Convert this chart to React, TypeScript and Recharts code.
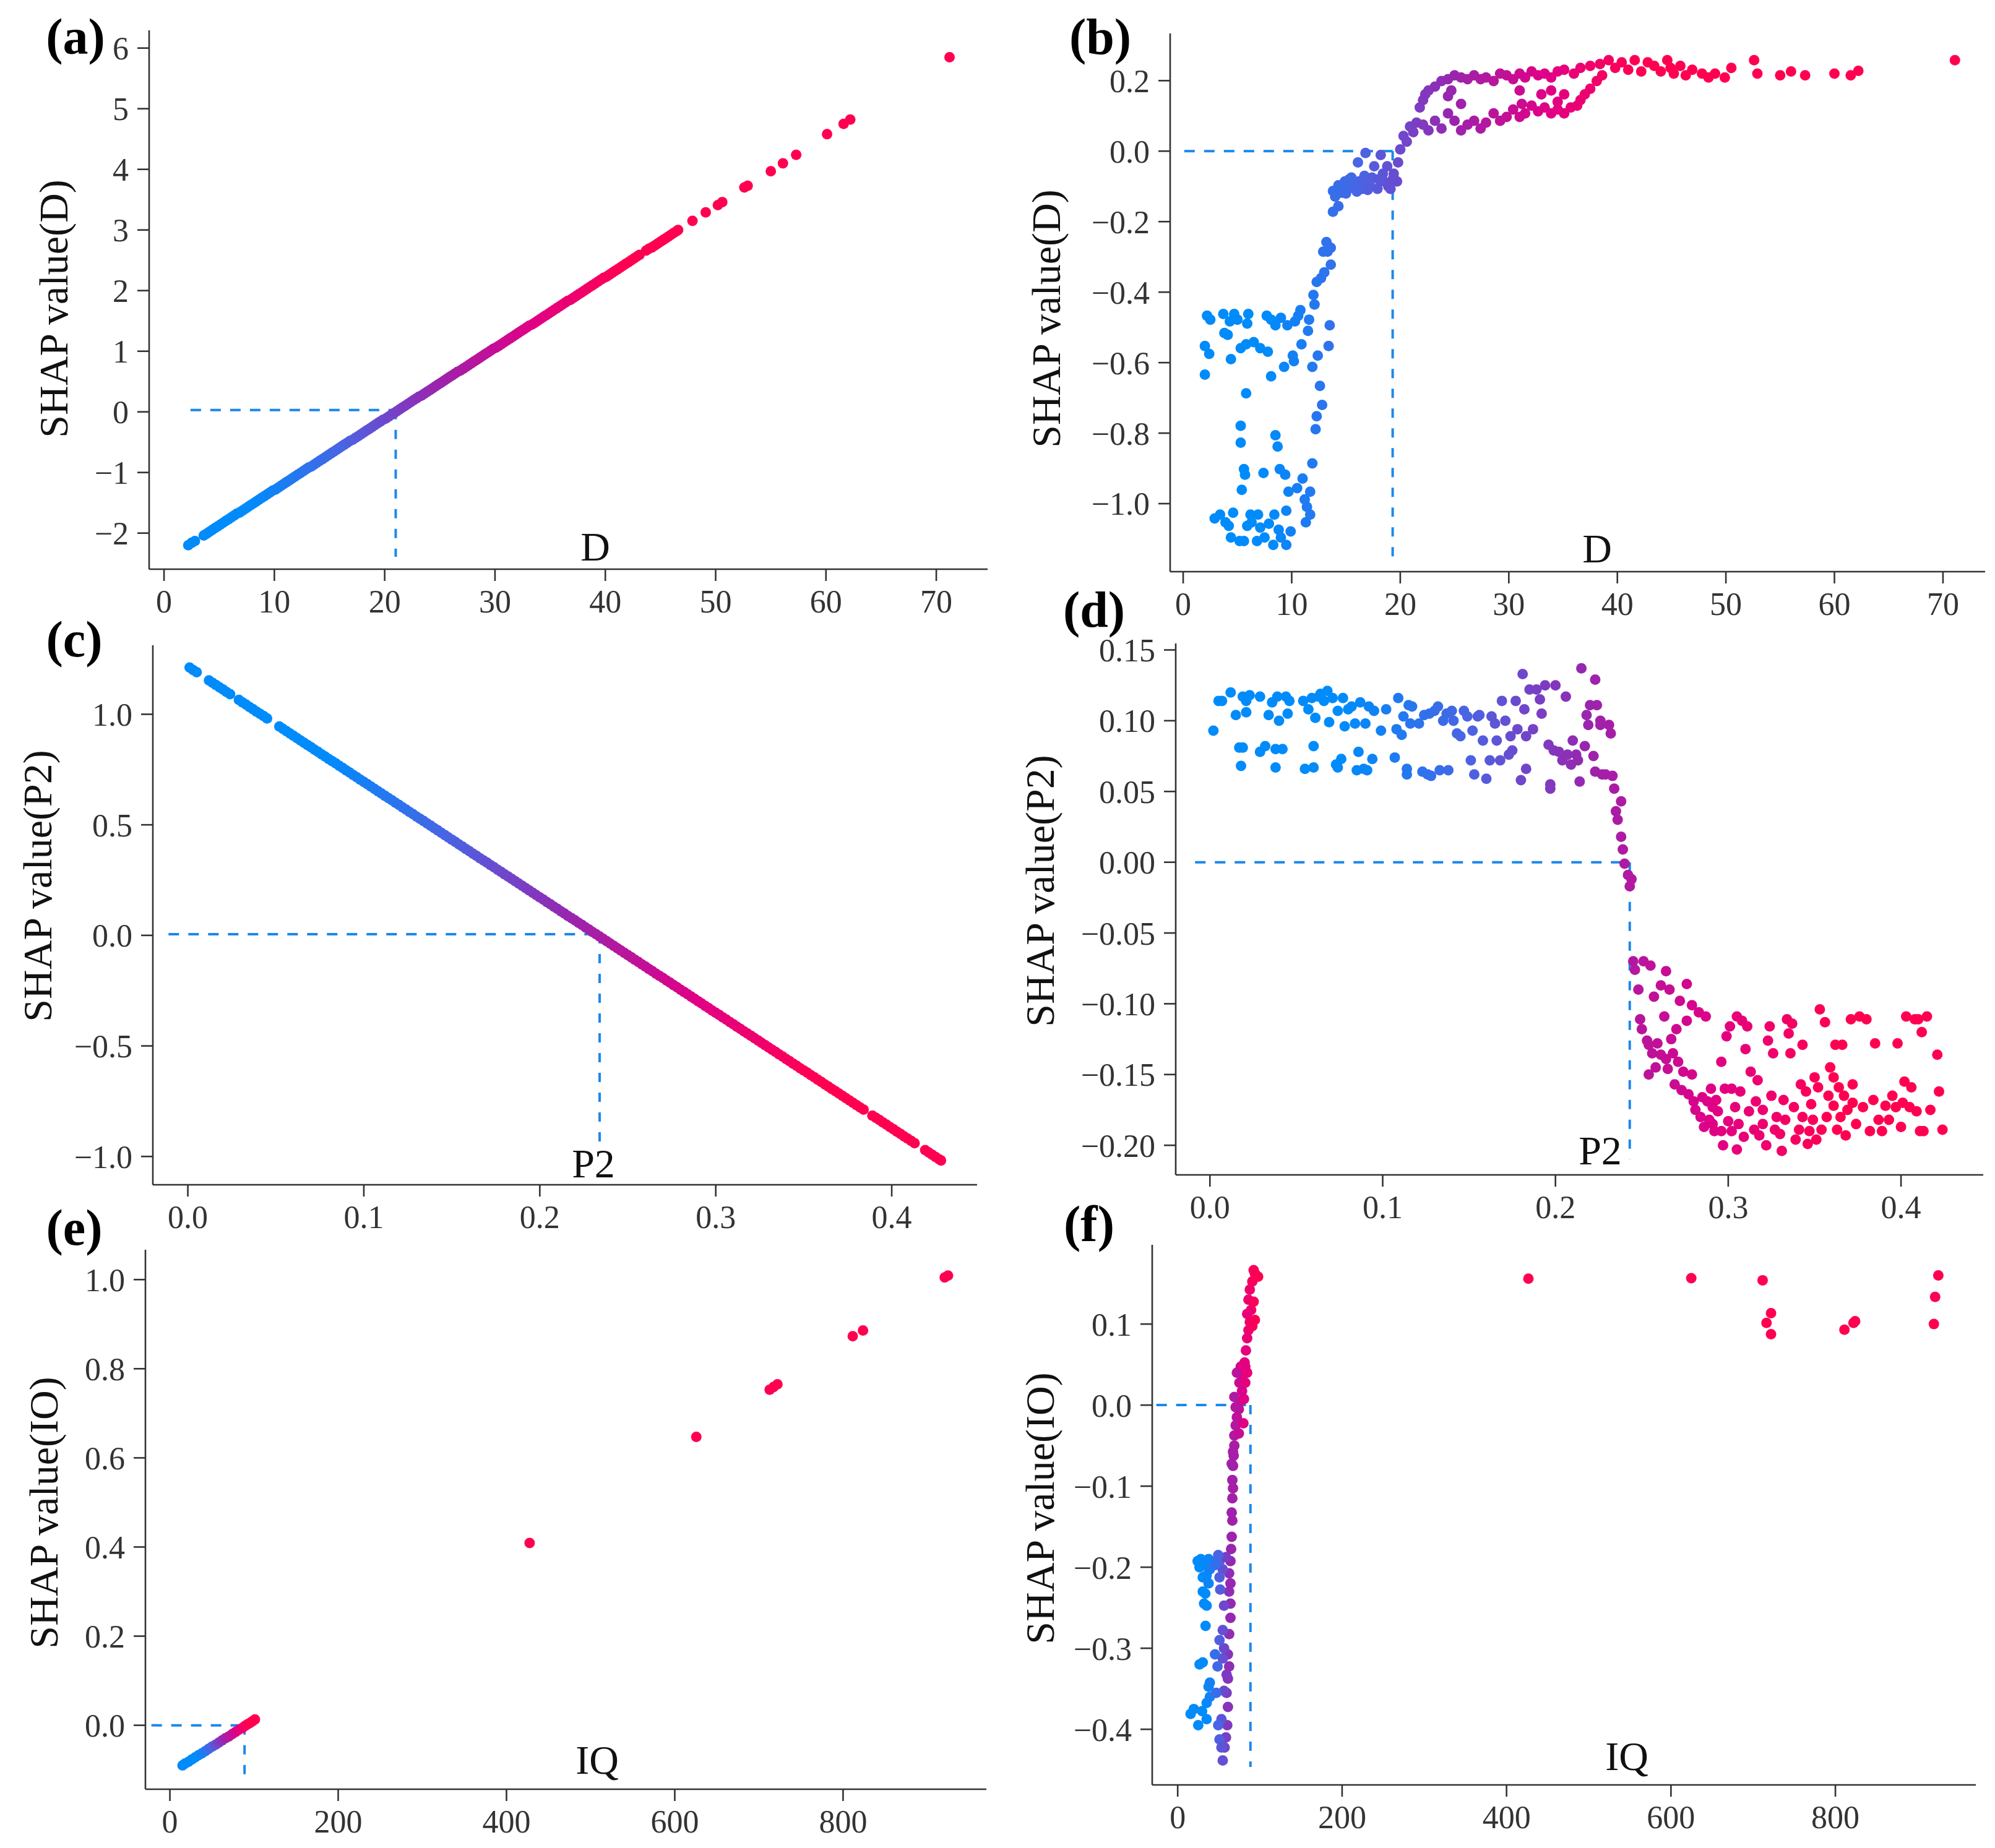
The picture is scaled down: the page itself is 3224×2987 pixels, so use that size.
import React from 'react';
import { ScatterChart, Scatter, XAxis, YAxis, ReferenceLine } from 'recharts';

type Pt = [number, number];

// (a) SHAP value(D) against D
const dLinearPoints: Pt[] = [
  [2.2, -2.2], [2.5, -2.16], [2.8, -2.13],
  [3.6, -2.04], [3.85, -2.01], [4.1, -1.98], [4.35, -1.95], [4.6, -1.92], [4.85, -1.89], [5.1, -1.86],
  [5.35, -1.83], [5.6, -1.8], [5.85, -1.77], [6.1, -1.74], [6.35, -1.71], [6.6, -1.68], [6.85, -1.66],
  [7.1, -1.63], [7.35, -1.6], [7.6, -1.57], [7.85, -1.54], [8.1, -1.51], [8.35, -1.48], [8.6, -1.45],
  [8.85, -1.42], [9.1, -1.39], [9.35, -1.36], [9.6, -1.33], [9.85, -1.3], [10.1, -1.28], [10.35, -1.25],
  [10.6, -1.22], [10.85, -1.19], [11.1, -1.16], [11.35, -1.13], [11.6, -1.1], [11.85, -1.07], [12.1, -1.04],
  [12.35, -1.01], [12.6, -0.98], [12.85, -0.95], [13.1, -0.92], [13.35, -0.9], [13.6, -0.87], [13.85, -0.84],
  [14.1, -0.81], [14.35, -0.78], [14.6, -0.75], [14.85, -0.72], [15.1, -0.69], [15.35, -0.66], [15.6, -0.63],
  [15.85, -0.6], [16.1, -0.57], [16.35, -0.54], [16.6, -0.51], [16.85, -0.48], [17.1, -0.46], [17.35, -0.43],
  [17.6, -0.4], [17.85, -0.37], [18.1, -0.34], [18.35, -0.31], [18.6, -0.28], [18.85, -0.25], [19.1, -0.22],
  [19.35, -0.19], [19.6, -0.16], [19.85, -0.13], [20.1, -0.11], [20.35, -0.08], [20.6, -0.05], [20.85, -0.02],
  [21.1, 0.01], [21.35, 0.04], [21.6, 0.07], [21.85, 0.1], [22.1, 0.13], [22.35, 0.16], [22.6, 0.19],
  [22.85, 0.22], [23.1, 0.25], [23.35, 0.27], [23.6, 0.3], [23.85, 0.33], [24.1, 0.36], [24.35, 0.39],
  [24.6, 0.42], [24.85, 0.45], [25.1, 0.48], [25.35, 0.51], [25.6, 0.54], [25.85, 0.57], [26.1, 0.6],
  [26.35, 0.63], [26.6, 0.66], [26.85, 0.68], [27.1, 0.71], [27.35, 0.74], [27.6, 0.77], [27.85, 0.8],
  [28.1, 0.83], [28.35, 0.86], [28.6, 0.89], [28.85, 0.92], [29.1, 0.95], [29.35, 0.98], [29.6, 1.01],
  [29.85, 1.04], [30.1, 1.06], [30.35, 1.09], [30.6, 1.12], [30.85, 1.15], [31.1, 1.18], [31.35, 1.21],
  [31.6, 1.24], [31.85, 1.27], [32.1, 1.3], [32.35, 1.33], [32.6, 1.36], [32.85, 1.39], [33.1, 1.42],
  [33.35, 1.44], [33.6, 1.47], [33.85, 1.5], [34.1, 1.53], [34.35, 1.56], [34.6, 1.59], [34.85, 1.62],
  [35.1, 1.65], [35.35, 1.68], [35.6, 1.71], [35.85, 1.74], [36.1, 1.77], [36.35, 1.8], [36.6, 1.83],
  [36.85, 1.85], [37.1, 1.88], [37.35, 1.91], [37.6, 1.94], [37.85, 1.97], [38.1, 2.0], [38.35, 2.03],
  [38.6, 2.06], [38.85, 2.09], [39.1, 2.12], [39.35, 2.15], [39.6, 2.18], [39.85, 2.21], [40.1, 2.23],
  [40.35, 2.26], [40.6, 2.29], [40.85, 2.32], [41.1, 2.35], [41.35, 2.38], [41.6, 2.41], [41.85, 2.44],
  [42.1, 2.47], [42.35, 2.5], [42.6, 2.53], [42.85, 2.56], [43.1, 2.59],
  [43.7, 2.66], [43.95, 2.69], [44.2, 2.71], [44.45, 2.74], [44.7, 2.77], [44.95, 2.8], [45.2, 2.83],
  [45.45, 2.86], [45.7, 2.89], [45.95, 2.92], [46.2, 2.95], [46.45, 2.98], [46.6, 3.0],
  [47.9, 3.15], [49.1, 3.29], [50.2, 3.41], [50.6, 3.46], [52.6, 3.7], [52.9, 3.73], [55.0, 3.97],
  [56.1, 4.1], [57.3, 4.24], [60.1, 4.58], [61.6, 4.75], [62.2, 4.82], [71.2, 5.85],
];

// (b) SHAP value(D) against D, second model
const dStepPoints: Pt[] = [
  [2.0, -0.634], [2.0, -0.553], [2.4, -0.575], [2.2, -0.467], [2.5, -0.478], [2.9, -1.042], [3.4, -1.031],
  [3.8, -0.516], [4.1, -0.521], [3.7, -0.462], [4.3, -0.483], [4.4, -0.59], [3.9, -1.053], [4.2, -1.063],
  [4.4, -1.096], [4.6, -1.026], [4.7, -0.462], [5.0, -0.478], [5.3, -0.559], [5.4, -0.961], [5.6, -0.902],
  [5.7, -0.918], [5.3, -0.779], [5.3, -0.827], [5.2, -1.106], [5.6, -1.106], [5.8, -0.548], [5.8, -0.687],
  [6.0, -0.462], [5.9, -0.489], [6.2, -1.031], [5.9, -1.063], [6.3, -1.053], [6.5, -0.542], [6.8, -1.106],
  [6.9, -1.031], [7.1, -0.559], [7.1, -1.068], [7.4, -0.913], [7.5, -1.096], [7.7, -0.467], [7.8, -0.569],
  [7.9, -1.057], [8.1, -0.639], [8.3, -1.117], [8.4, -1.031], [8.5, -0.806], [8.7, -0.838], [8.8, -1.074],
  [8.9, -0.902], [9.0, -1.096], [8.1, -0.478], [8.5, -0.494], [9.0, -0.473], [9.3, -0.612], [9.4, -0.918],
  [9.5, -1.02], [9.5, -1.117], [9.6, -0.494], [9.7, -0.966], [9.9, -1.079], [10.1, -0.58], [10.2, -0.596],
  [10.3, -0.483], [10.5, -0.956], [10.6, -0.467], [10.8, -0.451], [10.9, -0.548], [11.0, -0.929],
  [11.2, -0.988], [11.3, -1.053], [11.4, -1.009], [11.5, -0.51], [11.6, -0.478], [11.7, -0.966],
  [11.7, -1.031], [11.9, -0.612], [11.9, -0.886], [12.0, -0.408], [12.1, -0.435], [12.2, -0.789],
  [12.3, -0.752], [12.3, -0.371], [12.4, -0.58], [12.6, -0.666], [12.7, -0.36], [12.8, -0.72],
  [12.9, -0.285], [13.0, -0.344], [13.2, -0.258], [13.3, -0.285], [13.4, -0.553], [13.5, -0.494],
  [13.6, -0.322], [13.6, -0.274], [13.8, -0.172], [13.8, -0.113], [14.0, -0.129], [14.3, -0.156],
  [14.3, -0.097], [14.6, -0.118], [14.9, -0.086], [15.2, -0.107], [15.5, -0.075], [15.8, -0.102],
  [16.1, -0.032], [16.2, -0.086], [16.5, -0.107], [16.7, -0.07], [16.8, -0.005], [17.2, -0.097],
  [17.4, -0.075], [17.6, -0.043], [17.9, -0.107], [18.2, -0.011], [18.4, -0.064], [18.5, -0.086],
  [18.8, -0.043], [19.1, -0.107], [19.4, -0.064], [19.7, -0.086], [19.8, -0.032], [20.0, 0.005],
  [15.0, -0.12], [15.6, -0.09], [16.0, -0.115], [16.9, -0.09], [17.0, -0.11], [18.0, -0.08],
  [18.9, -0.1], [19.3, -0.08], [14.8, -0.1], [15.3, -0.08],
  [20.3, 0.043], [20.6, 0.027], [20.9, 0.07], [21.2, 0.054], [21.5, 0.081],
  [21.8, 0.124], [22.1, 0.145], [22.3, 0.161], [22.6, 0.172], [23.2, 0.183], [23.8, 0.199], [24.4, 0.204],
  [25.0, 0.215], [25.6, 0.209], [26.2, 0.204], [26.8, 0.215], [27.4, 0.204], [27.9, 0.209], [28.6, 0.199],
  [29.2, 0.22], [29.8, 0.215], [30.4, 0.204], [31.0, 0.22], [31.5, 0.209], [32.1, 0.226], [32.7, 0.215],
  [33.3, 0.22], [33.9, 0.209], [34.5, 0.226], [35.1, 0.231], [36.0, 0.22], [36.6, 0.236], [37.5, 0.242],
  [38.4, 0.247], [39.2, 0.258],
  [24.4, 0.156], [24.7, 0.172], [25.6, 0.134], [31.0, 0.172], [31.2, 0.134], [33.0, 0.161], [33.9, 0.172],
  [35.1, 0.161], [34.5, 0.14],
  [22.1, 0.075], [22.6, 0.059], [23.2, 0.086], [23.8, 0.064], [24.4, 0.107], [25.0, 0.086], [25.6, 0.059],
  [26.2, 0.075], [26.8, 0.086], [27.4, 0.064], [27.9, 0.081], [28.6, 0.107], [29.2, 0.086], [29.8, 0.097],
  [30.4, 0.118], [31.0, 0.097], [31.5, 0.107], [32.1, 0.129], [32.7, 0.113], [33.3, 0.124], [33.9, 0.107],
  [34.5, 0.118], [35.1, 0.107], [35.7, 0.124], [36.3, 0.129], [36.6, 0.145], [37.0, 0.161], [37.5, 0.177],
  [38.1, 0.199], [38.6, 0.215],
  [39.8, 0.236], [40.4, 0.252], [41.0, 0.231], [41.6, 0.258], [42.2, 0.226], [42.8, 0.252], [43.4, 0.242],
  [44.0, 0.226], [44.6, 0.258], [44.9, 0.236], [45.2, 0.22], [45.8, 0.242], [46.3, 0.215], [46.9, 0.231],
  [47.8, 0.22], [48.4, 0.209], [49.0, 0.22], [49.9, 0.209], [50.5, 0.236], [52.6, 0.258], [52.9, 0.22],
  [55.0, 0.215], [56.0, 0.226], [57.3, 0.215], [60.0, 0.22], [61.5, 0.215], [62.2, 0.228], [71.1, 0.258],
];

// (c) SHAP value(P2) against P2
const p2LinearPoints: Pt[] = [
  [0.001, 1.211], [0.003, 1.2], [0.005, 1.19],
  [0.012, 1.153], [0.014, 1.143], [0.016, 1.132], [0.018, 1.122], [0.02, 1.112], [0.022, 1.101], [0.024, 1.091],
  [0.029, 1.065], [0.031, 1.054], [0.033, 1.044], [0.035, 1.033], [0.037, 1.023], [0.039, 1.012], [0.041, 1.002],
  [0.043, 0.992], [0.045, 0.981],
  [0.052, 0.945], [0.054, 0.934], [0.056, 0.924], [0.058, 0.913], [0.06, 0.903], [0.062, 0.892], [0.064, 0.882],
  [0.066, 0.871], [0.068, 0.861], [0.07, 0.851], [0.072, 0.84], [0.074, 0.83], [0.076, 0.819], [0.078, 0.809],
  [0.08, 0.798], [0.082, 0.788], [0.084, 0.778], [0.086, 0.767], [0.088, 0.757], [0.09, 0.746], [0.092, 0.736],
  [0.094, 0.725], [0.096, 0.715], [0.098, 0.704], [0.1, 0.694], [0.102, 0.684], [0.104, 0.673], [0.106, 0.663],
  [0.108, 0.652], [0.11, 0.642], [0.112, 0.631], [0.114, 0.621], [0.116, 0.611], [0.118, 0.6], [0.12, 0.59],
  [0.122, 0.579], [0.124, 0.569], [0.126, 0.558], [0.128, 0.548], [0.13, 0.537], [0.132, 0.527], [0.134, 0.517],
  [0.136, 0.506], [0.138, 0.496], [0.14, 0.485], [0.142, 0.475], [0.144, 0.464], [0.146, 0.454], [0.148, 0.443],
  [0.15, 0.433], [0.152, 0.423], [0.154, 0.412], [0.156, 0.402], [0.158, 0.391], [0.16, 0.381], [0.162, 0.37],
  [0.164, 0.36], [0.166, 0.349], [0.168, 0.339], [0.17, 0.329], [0.172, 0.318], [0.174, 0.308], [0.176, 0.297],
  [0.178, 0.287], [0.18, 0.276], [0.182, 0.266], [0.184, 0.256], [0.186, 0.245], [0.188, 0.235], [0.19, 0.224],
  [0.192, 0.214], [0.194, 0.203], [0.196, 0.193], [0.198, 0.182], [0.2, 0.172], [0.202, 0.162], [0.204, 0.151],
  [0.206, 0.141], [0.208, 0.13], [0.21, 0.12], [0.212, 0.109], [0.214, 0.099], [0.216, 0.088], [0.218, 0.078],
  [0.22, 0.068], [0.222, 0.057], [0.224, 0.047], [0.226, 0.036], [0.228, 0.026], [0.23, 0.015], [0.232, 0.005],
  [0.234, -0.005], [0.236, -0.016], [0.238, -0.026], [0.24, -0.037], [0.242, -0.047], [0.244, -0.058],
  [0.246, -0.068], [0.248, -0.079], [0.25, -0.089], [0.252, -0.099], [0.254, -0.11], [0.256, -0.12],
  [0.258, -0.131], [0.26, -0.141], [0.262, -0.152], [0.264, -0.162], [0.266, -0.173], [0.268, -0.183],
  [0.27, -0.193], [0.272, -0.204], [0.274, -0.214], [0.276, -0.225], [0.278, -0.235], [0.28, -0.246],
  [0.282, -0.256], [0.284, -0.266], [0.286, -0.277], [0.288, -0.287], [0.29, -0.298], [0.292, -0.308],
  [0.294, -0.319], [0.296, -0.329], [0.298, -0.34], [0.3, -0.35], [0.302, -0.36], [0.304, -0.371],
  [0.306, -0.381], [0.308, -0.392], [0.31, -0.402], [0.312, -0.413], [0.314, -0.423], [0.316, -0.434],
  [0.318, -0.444], [0.32, -0.454], [0.322, -0.465], [0.324, -0.475], [0.326, -0.486], [0.328, -0.496],
  [0.33, -0.507], [0.332, -0.517], [0.334, -0.527], [0.336, -0.538], [0.338, -0.548], [0.34, -0.559],
  [0.342, -0.569], [0.344, -0.58], [0.346, -0.59], [0.348, -0.601], [0.35, -0.611], [0.352, -0.621],
  [0.354, -0.632], [0.356, -0.642], [0.358, -0.653], [0.36, -0.663], [0.362, -0.674], [0.364, -0.684],
  [0.366, -0.695], [0.368, -0.705], [0.37, -0.715], [0.372, -0.726], [0.374, -0.736], [0.376, -0.747],
  [0.378, -0.757], [0.38, -0.768], [0.382, -0.778], [0.384, -0.788],
  [0.389, -0.815], [0.391, -0.825], [0.393, -0.835], [0.395, -0.846], [0.397, -0.856], [0.399, -0.867],
  [0.401, -0.877], [0.403, -0.888], [0.405, -0.898], [0.407, -0.909], [0.409, -0.919], [0.411, -0.929],
  [0.413, -0.94],
  [0.419, -0.971], [0.421, -0.982], [0.423, -0.992], [0.425, -1.003], [0.427, -1.013], [0.428, -1.018],
];

// (d) SHAP value(P2) against P2, second model
const p2StepPoints: Pt[] = [
  [0.002, 0.093], [0.005, 0.114], [0.007, 0.114], [0.012, 0.12], [0.015, 0.104], [0.017, 0.081],
  [0.018, 0.068], [0.019, 0.081], [0.019, 0.117], [0.021, 0.106], [0.021, 0.114], [0.023, 0.118],
  [0.029, 0.117], [0.029, 0.078], [0.032, 0.082], [0.034, 0.104], [0.036, 0.113], [0.038, 0.067],
  [0.038, 0.08], [0.039, 0.117], [0.04, 0.1], [0.042, 0.08], [0.044, 0.117], [0.045, 0.105],
  [0.046, 0.114], [0.054, 0.114], [0.055, 0.066], [0.057, 0.108], [0.059, 0.116], [0.06, 0.067],
  [0.06, 0.082], [0.061, 0.102], [0.063, 0.117], [0.064, 0.119], [0.066, 0.114], [0.068, 0.121],
  [0.069, 0.099], [0.071, 0.116], [0.073, 0.069], [0.074, 0.107], [0.074, 0.067], [0.076, 0.073],
  [0.077, 0.116], [0.078, 0.096], [0.08, 0.108], [0.082, 0.11], [0.084, 0.098], [0.085, 0.065],
  [0.086, 0.078], [0.087, 0.113], [0.089, 0.066], [0.09, 0.098], [0.091, 0.065], [0.092, 0.11],
  [0.094, 0.073], [0.095, 0.107], [0.099, 0.093], [0.102, 0.108], [0.107, 0.074], [0.108, 0.094],
  [0.109, 0.116], [0.111, 0.09], [0.112, 0.103], [0.114, 0.066], [0.114, 0.062], [0.115, 0.111],
  [0.116, 0.098], [0.117, 0.11], [0.121, 0.098], [0.123, 0.064], [0.124, 0.104], [0.126, 0.062],
  [0.127, 0.105], [0.128, 0.061], [0.13, 0.107], [0.132, 0.11], [0.133, 0.065], [0.135, 0.1],
  [0.137, 0.105], [0.138, 0.065], [0.14, 0.107], [0.141, 0.1], [0.143, 0.091], [0.145, 0.089],
  [0.147, 0.107], [0.149, 0.103], [0.151, 0.072], [0.152, 0.093], [0.153, 0.062], [0.155, 0.103],
  [0.156, 0.104], [0.158, 0.086], [0.16, 0.059], [0.162, 0.072], [0.163, 0.103], [0.165, 0.098],
  [0.166, 0.086], [0.168, 0.072], [0.169, 0.114], [0.171, 0.1], [0.173, 0.076], [0.174, 0.089],
  [0.175, 0.079], [0.177, 0.114], [0.178, 0.094], [0.18, 0.058], [0.181, 0.133], [0.182, 0.108],
  [0.183, 0.066], [0.183, 0.089], [0.185, 0.122], [0.187, 0.094], [0.189, 0.122], [0.191, 0.115],
  [0.192, 0.105], [0.194, 0.125], [0.196, 0.083], [0.197, 0.055], [0.197, 0.052], [0.199, 0.079],
  [0.2, 0.125], [0.202, 0.078], [0.204, 0.072], [0.206, 0.117], [0.207, 0.076], [0.209, 0.069],
  [0.21, 0.086], [0.212, 0.076], [0.213, 0.072], [0.214, 0.057], [0.215, 0.137], [0.217, 0.082],
  [0.218, 0.104], [0.219, 0.097], [0.22, 0.111], [0.222, 0.075], [0.223, 0.129], [0.223, 0.064],
  [0.224, 0.111], [0.226, 0.1], [0.226, 0.097], [0.227, 0.062], [0.229, 0.062], [0.231, 0.097],
  [0.232, 0.091], [0.233, 0.061], [0.234, 0.052], [0.235, 0.036], [0.236, 0.03], [0.238, 0.043],
  [0.238, 0.018], [0.239, 0.009], [0.24, -0.001], [0.242, -0.009], [0.243, -0.017], [0.244, -0.012],
  [0.245, -0.07], [0.246, -0.076], [0.248, -0.09], [0.249, -0.111], [0.25, -0.118], [0.251, -0.07],
  [0.253, -0.126], [0.254, -0.129], [0.254, -0.15], [0.255, -0.073], [0.256, -0.135], [0.257, -0.095],
  [0.258, -0.145], [0.259, -0.128], [0.261, -0.087], [0.261, -0.136], [0.263, -0.109], [0.264, -0.139],
  [0.264, -0.077], [0.265, -0.146], [0.266, -0.09], [0.267, -0.125], [0.268, -0.135], [0.269, -0.157],
  [0.27, -0.118], [0.271, -0.141], [0.272, -0.098], [0.273, -0.161], [0.274, -0.148], [0.276, -0.112],
  [0.276, -0.086], [0.277, -0.164], [0.279, -0.15], [0.279, -0.101], [0.28, -0.169], [0.281, -0.175],
  [0.283, -0.106], [0.284, -0.18], [0.285, -0.166], [0.286, -0.187], [0.287, -0.109], [0.288, -0.169],
  [0.289, -0.182], [0.29, -0.16], [0.291, -0.185], [0.291, -0.173], [0.292, -0.19], [0.293, -0.168],
  [0.294, -0.176], [0.296, -0.19], [0.296, -0.141], [0.297, -0.2], [0.298, -0.16], [0.299, -0.123],
  [0.3, -0.183], [0.301, -0.116], [0.302, -0.19], [0.302, -0.16], [0.304, -0.173], [0.305, -0.203],
  [0.305, -0.109], [0.306, -0.185], [0.307, -0.162], [0.308, -0.112], [0.309, -0.194], [0.31, -0.132],
  [0.311, -0.116], [0.312, -0.176], [0.313, -0.148], [0.315, -0.189], [0.316, -0.169], [0.317, -0.154],
  [0.318, -0.193], [0.32, -0.175], [0.32, -0.185], [0.322, -0.2], [0.323, -0.126], [0.324, -0.116],
  [0.325, -0.165], [0.326, -0.135], [0.327, -0.189], [0.328, -0.18], [0.33, -0.192], [0.331, -0.204],
  [0.332, -0.168], [0.333, -0.182], [0.334, -0.111], [0.335, -0.121], [0.336, -0.135], [0.337, -0.114],
  [0.338, -0.173], [0.339, -0.196], [0.341, -0.189], [0.342, -0.157], [0.343, -0.18], [0.343, -0.129],
  [0.345, -0.162], [0.346, -0.199], [0.347, -0.19], [0.348, -0.171], [0.349, -0.182], [0.35, -0.152],
  [0.351, -0.196], [0.352, -0.159], [0.353, -0.104], [0.354, -0.189], [0.356, -0.113], [0.357, -0.18],
  [0.358, -0.165], [0.359, -0.145], [0.361, -0.172], [0.361, -0.152], [0.362, -0.129], [0.363, -0.189],
  [0.364, -0.159], [0.365, -0.18], [0.366, -0.129], [0.367, -0.165], [0.368, -0.193], [0.369, -0.175],
  [0.371, -0.111], [0.372, -0.157], [0.372, -0.17], [0.374, -0.185], [0.376, -0.109], [0.378, -0.173],
  [0.38, -0.111], [0.382, -0.19], [0.384, -0.168], [0.385, -0.128], [0.387, -0.182], [0.389, -0.19],
  [0.391, -0.172], [0.393, -0.182], [0.395, -0.165], [0.397, -0.173], [0.398, -0.128], [0.4, -0.187],
  [0.401, -0.17], [0.402, -0.155], [0.403, -0.109], [0.405, -0.173], [0.406, -0.159], [0.408, -0.111],
  [0.409, -0.176], [0.41, -0.111], [0.411, -0.19], [0.412, -0.12], [0.413, -0.19], [0.415, -0.109],
  [0.417, -0.175], [0.421, -0.136], [0.422, -0.162], [0.424, -0.189],
];

// (e) SHAP value(IO) against IQ
const iqLinearPoints: Pt[] = [
  [15, -0.09], [18, -0.086], [22, -0.082], [26, -0.077], [30, -0.072], [34, -0.067], [38, -0.063],
  [42, -0.058], [46, -0.053], [50, -0.048], [54, -0.044], [58, -0.039], [62, -0.034], [66, -0.029],
  [70, -0.025], [74, -0.02], [78, -0.015], [82, -0.01], [86, -0.006], [89, -0.002], [92, 0.002],
  [95, 0.005], [98, 0.009], [101, 0.013],
  [427.5, 0.409], [625.6, 0.647], [712.8, 0.753], [717.4, 0.759], [722, 0.765], [811.5, 0.873],
  [823.7, 0.886], [920.8, 1.005], [924.7, 1.009],
];

// (f) SHAP value(IO) against IQ, second model
const iqStepPoints: Pt[] = [
  [54.8, -0.4385], [57.1, -0.4225], [58.7, -0.41], [60.3, -0.395], [61.1, -0.3725], [59.5, -0.355],
  [61.1, -0.3375], [62.6, -0.3225], [61.1, -0.3075], [62.6, -0.2825], [64.2, -0.2625], [64.2, -0.245],
  [62.6, -0.23], [64.2, -0.22], [62.6, -0.2075], [64.2, -0.1925], [65, -0.1775], [65.7, -0.1625],
  [66.5, -0.1425], [65.7, -0.1325], [66.5, -0.115], [67.3, -0.1025], [66.5, -0.0925], [67.3, -0.075],
  [68.1, -0.0625], [68.9, -0.05], [68.9, -0.0375], [70.5, -0.025], [72, -0.015], [74.4, -0.005],
  [76.7, 0.005], [78.3, 0.0175], [80.6, 0.0075], [75.1, 0.0275], [78.3, 0.0375], [82.2, 0.0275],
  [84.5, 0.04], [72, 0.04], [76.7, 0.0475], [81.4, 0.0525], [83, 0.0675], [84.5, 0.0825], [86.1, 0.0925],
  [87.7, 0.1025], [90.8, 0.0975], [93.9, 0.105], [89.3, 0.1175], [86.1, 0.13], [92.4, 0.1275],
  [87.7, 0.1425], [90.8, 0.1525], [93.9, 0.1625], [97.8, 0.1585], [92.4, 0.1665], [84.5, 0.1125],
  [82.2, 0.0475], [79.9, -0.0225], [74.4, -0.035], [70.5, -0.0025], [68.9, 0.01], [67.3, -0.0575],
  [65.7, -0.0725],
  [54.8, -0.3125], [56.4, -0.3525], [53.2, -0.3875], [54.8, -0.2775], [56.4, -0.2475], [51.7, -0.2275],
  [54.8, -0.2025], [50.9, -0.1925], [58.7, -0.1875], [56.4, -0.3], [59.5, -0.3325],
  [15.7, -0.381], [19.6, -0.375], [25, -0.395], [29.7, -0.3775], [35.2, -0.3875], [35.2, -0.3675],
  [39.1, -0.36], [46.9, -0.355], [49.3, -0.395], [50.9, -0.4125], [53.2, -0.4225], [26.6, -0.32],
  [30.5, -0.3175], [33.9, -0.2725], [37.6, -0.3475], [39.1, -0.3425], [45.4, -0.3075], [48.5, -0.3225],
  [50.9, -0.29], [24.3, -0.1925], [26.6, -0.2], [28.2, -0.19], [30.5, -0.2125], [32.1, -0.1975],
  [30.5, -0.23], [33.6, -0.2325], [35.2, -0.21], [37.6, -0.22], [39.1, -0.2025], [35.2, -0.2475],
  [46.9, -0.1925], [49.3, -0.185], [50.9, -0.2125], [32.1, -0.245], [37.6, -0.19], [45.4, -0.1975],
  [426.6, 0.156], [624.7, 0.1565], [711.5, 0.154], [721.7, 0.1135], [716.2, 0.1015], [721.7, 0.0875],
  [811, 0.093], [822, 0.1015], [824, 0.1035], [919.8, 0.1], [921.3, 0.1335], [925.2, 0.16],
];

// axis ticks
const dTicks = [0, 10, 20, 30, 40, 50, 60, 70];
const p2Ticks = [0, 0.1, 0.2, 0.3, 0.4];
const iqTicks = [0, 200, 400, 600, 800];
const shapTicksA = [-2, -1, 0, 1, 2, 3, 4, 5, 6];
const shapTicksB = [-1.0, -0.8, -0.6, -0.4, -0.2, 0.0, 0.2];
const shapTicksC = [-1.0, -0.5, 0.0, 0.5, 1.0];
const shapTicksD = [-0.2, -0.15, -0.1, -0.05, 0.0, 0.05, 0.1, 0.15];
const shapTicksE = [0.0, 0.2, 0.4, 0.6, 0.8, 1.0];
const shapTicksF = [-0.4, -0.3, -0.2, -0.1, 0.0, 0.1];

// shap red_blue colour stops
const COLOR_STOPS: [number, number[]][] = [
  [0, [0, 139, 251]],
  [0.25, [75, 99, 227]],
  [0.5, [155, 36, 173]],
  [0.75, [224, 0, 134]],
  [1, [255, 0, 81]],
];

function shapColor(v: number, lo: number, hi: number) {
  const t = Math.max(0, Math.min(1, (v - lo) / (hi - lo)));
  for (let i = 1; i < COLOR_STOPS.length; i++) {
    const [t1, c1] = COLOR_STOPS[i];
    if (t <= t1) {
      const [t0, c0] = COLOR_STOPS[i - 1];
      const f = (t - t0) / (t1 - t0);
      const c = c0.map((a, k) => Math.round(a + (c1[k] - a) * f));
      return `rgb(${c[0]},${c[1]},${c[2]})`;
    }
  }
  return 'rgb(255,0,81)';
}

const SERIF = '"Liberation Serif", "Times New Roman", serif';
const AXIS = '#333333';
const DASH = '#1c88ea';

const fmt = (digits: number) => (v: number) => v.toFixed(digits).replace('-', '\u2212');

type Box = { l: number; t: number; r: number; b: number };

type PanelProps = {
  box: Box;
  points: Pt[];
  xDomain: [number, number];
  yDomain: [number, number];
  xTicks: number[];
  yTicks: number[];
  xDigits: number;
  yDigits: number;
  colorRange: [number, number];
  cross: { x0: number; x: number; y: number; y1: number };
};

function Panel({ box, points, xDomain, yDomain, xTicks, yTicks, xDigits, yDigits, colorRange, cross }: PanelProps) {
  const yAxisW = 200;
  const xAxisH = 110;
  const W = box.r - box.l + yAxisW + 20;
  const H = box.b - box.t + 20 + xAxisH;
  const data = points.map(([x, y]) => ({ x, y }));
  const tickStyle = { fontSize: 52, fontFamily: SERIF, fill: AXIS };
  return (
    <div style={{ position: 'absolute', left: box.l - yAxisW, top: box.t - 20 }}>
      <ScatterChart width={W} height={H} margin={{ top: 20, right: 20, bottom: 0, left: 0 }}>
        <XAxis
          type="number"
          dataKey="x"
          domain={xDomain}
          ticks={xTicks}
          interval={0}
          allowDataOverflow
          height={xAxisH}
          tickSize={19}
          tickMargin={14}
          stroke={AXIS}
          axisLine={{ stroke: AXIS, strokeWidth: 2.6 }}
          tickLine={{ stroke: AXIS, strokeWidth: 2.6 }}
          tick={tickStyle}
          tickFormatter={fmt(xDigits)}
        />
        <YAxis
          type="number"
          dataKey="y"
          domain={yDomain}
          ticks={yTicks}
          interval={0}
          allowDataOverflow
          width={yAxisW}
          tickSize={19}
          tickMargin={14}
          stroke={AXIS}
          axisLine={{ stroke: AXIS, strokeWidth: 2.6 }}
          tickLine={{ stroke: AXIS, strokeWidth: 2.6 }}
          tick={tickStyle}
          tickFormatter={fmt(yDigits)}
        />
        <Scatter
          data={data}
          isAnimationActive={false}
          shape={(p: any) => (
            <circle cx={p.cx} cy={p.cy} r={8.5} fill={shapColor(p.payload.x, colorRange[0], colorRange[1])} />
          )}
        />
        <ReferenceLine
          segment={[{ x: cross.x0, y: cross.y }, { x: cross.x, y: cross.y }]}
          stroke={DASH}
          strokeWidth={4}
          strokeDasharray="17 15"
          ifOverflow="visible"
        />
        <ReferenceLine
          segment={[{ x: cross.x, y: cross.y }, { x: cross.x, y: cross.y1 }]}
          stroke={DASH}
          strokeWidth={4}
          strokeDasharray="15 17"
          ifOverflow="visible"
        />
      </ScatterChart>
    </div>
  );
}

const panelLetters = [
  { text: '(a)', x: 122, y: 87 },
  { text: '(b)', x: 1778, y: 87 },
  { text: '(c)', x: 120, y: 1061 },
  { text: '(d)', x: 1768, y: 1013 },
  { text: '(e)', x: 120, y: 2012 },
  { text: '(f)', x: 1760, y: 2006 },
];

const yTitles = [
  { text: 'SHAP value(D)', x: 86, y: 499 },
  { text: 'SHAP value(D)', x: 1690, y: 515 },
  { text: 'SHAP value(P2)', x: 60, y: 1432 },
  { text: 'SHAP value(P2)', x: 1680, y: 1440 },
  { text: 'SHAP value(IO)', x: 70, y: 2445 },
  { text: 'SHAP value(IO)', x: 1680, y: 2438 },
];

const xTitles = [
  { text: 'D', x: 962, y: 906 },
  { text: 'D', x: 2581, y: 909 },
  { text: 'P2', x: 959, y: 1903 },
  { text: 'P2', x: 2586, y: 1882 },
  { text: 'IQ', x: 965, y: 2867 },
  { text: 'IQ', x: 2629, y: 2861 },
];

export default function App() {
  return (
    <div style={{ position: 'relative', width: 3224, height: 2987, background: '#fff', overflow: 'hidden' }}>
      <style>{'body{margin:0;background:#fff}'}</style>
      <Panel
        box={{ l: 241, t: 49, r: 1596, b: 920 }}
        points={dLinearPoints}
        xDomain={[-1.35, 74.65]}
        yDomain={[-2.595, 6.293]}
        xTicks={dTicks}
        yTicks={shapTicksA}
        xDigits={0}
        yDigits={0}
        colorRange={[8, 42]}
        cross={{ x0: 2.4, x: 21.0, y: 0.03, y1: -2.39 }}
      />
      <Panel
        box={{ l: 1891, t: 54, r: 3208, b: 924 }}
        points={dStepPoints}
        xDomain={[-1.2, 73.88]}
        yDomain={[-1.193, 0.334]}
        xTicks={dTicks}
        yTicks={shapTicksB}
        xDigits={0}
        yDigits={1}
        colorRange={[8, 42]}
        cross={{ x0: 0.1, x: 19.3, y: 0, y1: -1.158 }}
      />
      <Panel
        box={{ l: 247, t: 1043, r: 1579, b: 1915 }}
        points={p2LinearPoints}
        xDomain={[-0.0199, 0.4485]}
        yDomain={[-1.128, 1.312]}
        xTicks={p2Ticks}
        yTicks={shapTicksC}
        xDigits={1}
        yDigits={1}
        colorRange={[0.08, 0.36]}
        cross={{ x0: -0.011, x: 0.234, y: 0.005, y1: -0.95 }}
      />
      <Panel
        box={{ l: 1900, t: 1040, r: 3205, b: 1899 }}
        points={p2StepPoints}
        xDomain={[-0.0198, 0.4476]}
        yDomain={[-0.2209, 0.1546]}
        xTicks={p2Ticks}
        yTicks={shapTicksD}
        xDigits={1}
        yDigits={2}
        colorRange={[0.08, 0.36]}
        cross={{ x0: -0.0086, x: 0.243, y: 0, y1: -0.21 }}
      />
      <Panel
        box={{ l: 235, t: 2020, r: 1594, b: 2892 }}
        points={iqLinearPoints}
        xDomain={[-29.1, 970.3]}
        yDomain={[-0.1435, 1.067]}
        xTicks={iqTicks}
        yTicks={shapTicksE}
        xDigits={0}
        yDigits={1}
        colorRange={[35, 95]}
        cross={{ x0: -22, x: 88.7, y: 0, y1: -0.115 }}
      />
      <Panel
        box={{ l: 1862, t: 2012, r: 3193, b: 2885 }}
        points={iqStepPoints}
        xDomain={[-31, 970.8]}
        yDomain={[-0.4686, 0.1978]}
        xTicks={iqTicks}
        yTicks={shapTicksF}
        xDigits={0}
        yDigits={1}
        colorRange={[35, 95]}
        cross={{ x0: -26, x: 88.5, y: 0, y1: -0.4465 }}
      />
      <svg
        width={3224}
        height={2987}
        style={{ position: 'absolute', left: 0, top: 0, pointerEvents: 'none' }}
      >
        {panelLetters.map((p) => (
          <text key={p.text} x={p.x} y={p.y} textAnchor="middle" fontFamily={SERIF} fontWeight="bold" fontSize={82} fill="#000">
            {p.text}
          </text>
        ))}
        {yTitles.map((p, i) => (
          <text
            key={i}
            x={p.x}
            y={p.y}
            textAnchor="middle"
            dominantBaseline="central"
            transform={`rotate(-90, ${p.x}, ${p.y})`}
            fontFamily={SERIF}
            fontSize={66}
            fill="#111"
          >
            {p.text}
          </text>
        ))}
        {xTitles.map((p, i) => (
          <text key={i} x={p.x} y={p.y} textAnchor="middle" fontFamily={SERIF} fontSize={66} fill="#111">
            {p.text}
          </text>
        ))}
      </svg>
    </div>
  );
}
